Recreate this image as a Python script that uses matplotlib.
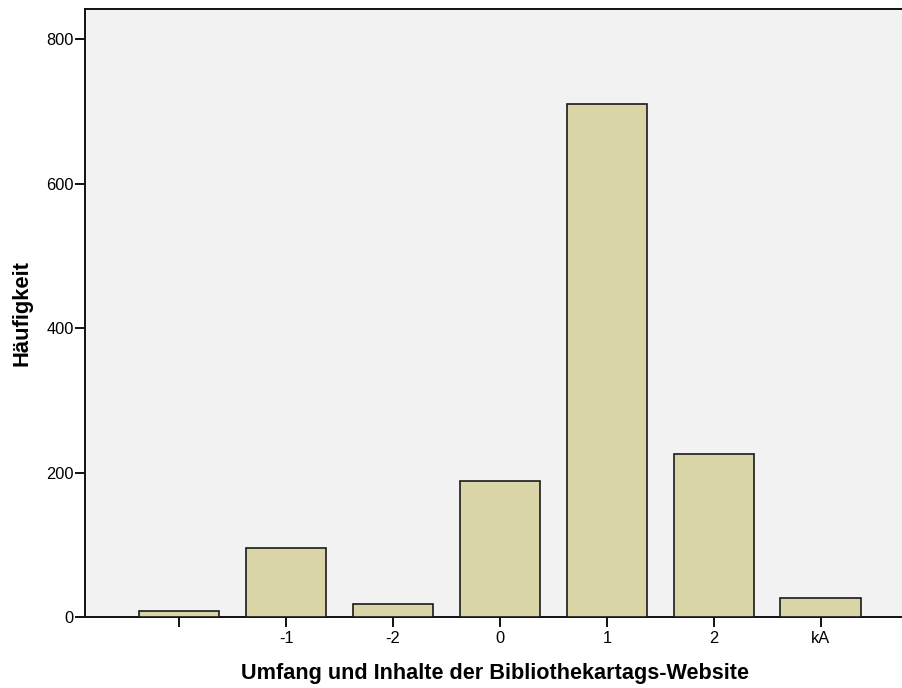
import matplotlib
matplotlib.use("Agg")
import matplotlib.pyplot as plt

categories = ["", "-1", "-2", "0", "1", "2", "kA"]
counts = [9, 96, 18, 188, 710, 226, 26]
yticks = [0, 200, 400, 600, 800]

plt.rcParams['font.family'] = ['Liberation Sans', 'DejaVu Sans']

W, H = 903, 688
fig = plt.figure(figsize=(W / 100, H / 100), dpi=100)
left, right, top, bottom = 85, 906, 9, 617
ax = fig.add_axes([left / W, (H - bottom) / H, (right - left) / W, (bottom - top) / H])
ax.set_facecolor('#f2f2f2')

x = list(range(len(categories)))
ax.bar(x, counts, width=0.75, color='#dad5a6', edgecolor='#1a1a1a', linewidth=1.2, zorder=3)

ax.set_xlim(-0.883, 6.8)
ax.set_ylim(0, 842)
ax.set_xticks(x)
ax.set_xticklabels(categories)
ax.set_yticks(yticks)
ax.tick_params(axis='both', direction='out', length=7, width=1.4, labelsize=11.8, color='#111111')
ax.tick_params(axis='y', pad=1)
ax.tick_params(axis='x', pad=3)
for s in ['left', 'bottom', 'top']:
    ax.spines[s].set_linewidth(1.4)
    ax.spines[s].set_color('#111111')
ax.spines['right'].set_visible(False)

ax.set_xlabel('Umfang und Inhalte der Bibliothekartags-Website', fontsize=15.6, fontweight='bold', labelpad=12.5)
ax.set_ylabel('Häufigkeit', fontsize=15.8, fontweight='bold', labelpad=10)

fig.savefig('out.png', dpi=100)
